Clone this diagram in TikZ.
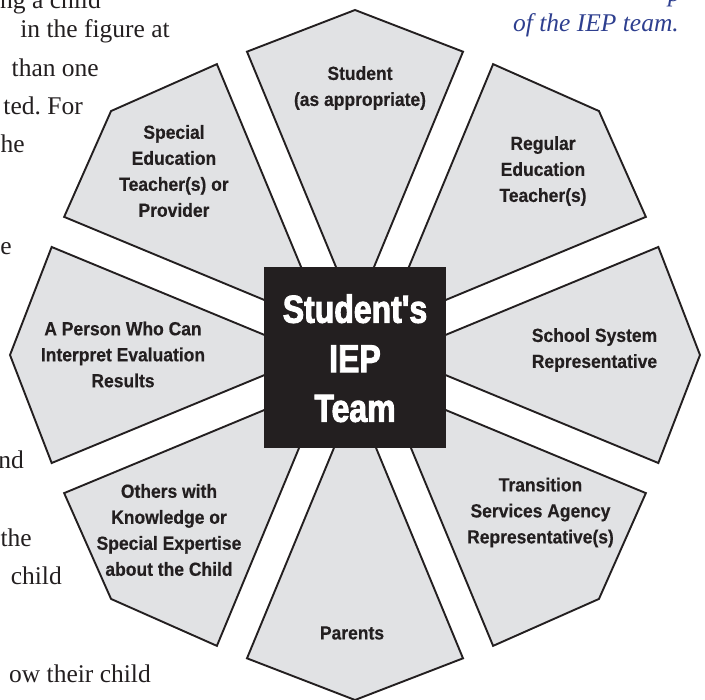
\documentclass[tikz,border=0pt]{standalone}
\usepackage{fontspec}
\setmainfont{Liberation Serif}
\newfontfamily\labfont[FakeStretch=0.92,FakeBold=0.4]{Liberation Sans}
\newfontfamily\titlefont[FakeStretch=0.82,FakeBold=2.5]{Liberation Sans}
\definecolor{wedge}{HTML}{E1E2E4}
\definecolor{ink}{HTML}{231F20}
\definecolor{capblue}{HTML}{2E3F8F}
\frenchspacing
\begin{document}
\begin{tikzpicture}[x=1pt,y=-1pt,
  wedgebox/.style={fill=wedge,draw=ink,line width=1.9pt,line join=miter},
  lab/.style={font=\labfont\bfseries\fontsize{19}{26}\selectfont,text=ink,align=center,inner sep=0pt},
  body/.style={font=\fontsize{25.5}{30}\selectfont,text=ink,inner sep=0pt,anchor=base east},
  captext/.style={font=\itshape\fontsize{25.5}{30}\selectfont,text=capblue,inner sep=0pt,anchor=base east},
  titlebox/.style={fill=ink,minimum width=182pt,minimum height=181pt,inner sep=0pt},
  titletext/.style={font=\titlefont\bfseries\fontsize{39}{49.5}\selectfont,text=white,align=center,inner sep=0pt}
]
\useasboundingbox (0,0) rectangle (705,700);
% surrounding page text
\node[body] (b1) at (101,9) {ing a child};
\node[body] (b2) at (170,38) {in the figure at};
\node[body] (b3) at (99,77) {than one};
\node[body] (b4) at (83,115) {ted. For};
\node[body] (b5) at (25,153) {he};
\node[body] (b6) at (12,255) {e};
\node[body] (b7) at (24,469) {nd};
\node[body] (b8) at (32,547) {the};
\node[body] (b9) at (62,585) {child};
\node[body] (b10) at (151,682) {ow their child};
\node[captext] (c0) at (681,2) {p};
\node[captext] (c1) at (679,32) {of the IEP team.};
% wedges
\foreach \a in {0,45,...,315}{
  \draw[wedgebox,shift={(355,355)}] (\a:42) -- (\a-19.6:322) -- (\a:345) -- (\a+19.6:322) -- cycle;
}
% centre
\node[titlebox] (team) at (355,357.5) {};
\node[titletext] (teamtext) at (355,358.3) {Student's\\IEP\\Team};
% labels
\node[lab] (student) at (360,88) {Student\\(as appropriate)};
\node[lab] (regular) at (543,171) {Regular\\Education\\Teacher(s)};
\node[lab] (school) at (594.5,350) {School System\\Representative};
\node[lab] (transition) at (540.5,512.5) {Transition\\Services Agency\\Representative(s)};
\node[lab] (parents) at (352,633) {Parents};
\node[lab] (others) at (169,530) {Others with\\Knowledge or\\Special Expertise\\about the Child};
\node[lab] (interpret) at (123,354.5) {A Person Who Can\\Interpret Evaluation\\Results};
\node[lab] (special) at (174,171) {Special\\Education\\Teacher(s) or\\Provider};
\end{tikzpicture}
\end{document}
